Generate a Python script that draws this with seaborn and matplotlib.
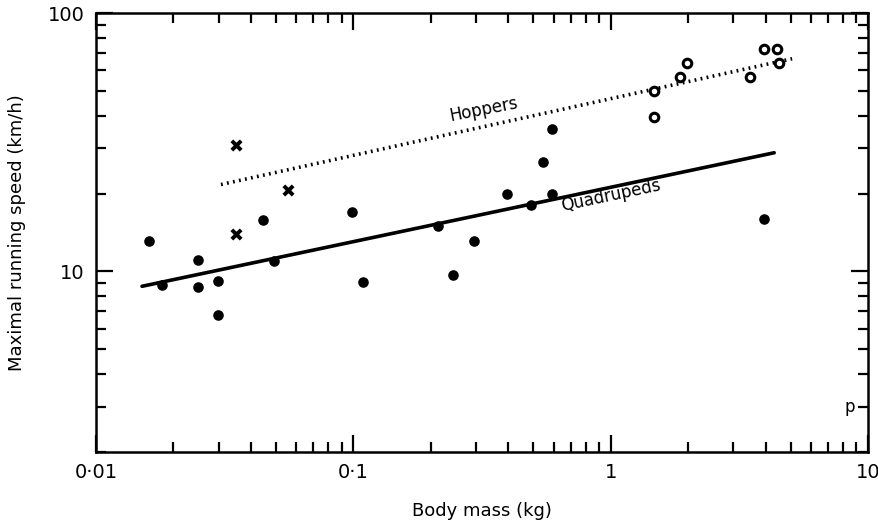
import numpy as np
import pandas as pd
import seaborn as sns
import matplotlib.pyplot as plt
from matplotlib.ticker import FixedLocator, FixedFormatter, NullFormatter

# quadrupeds (filled dots)
quad_mass = [0.0161, 0.0181, 0.0249, 0.0249, 0.0298, 0.0298, 0.0446, 0.0492,
             0.099, 0.109, 0.213, 0.244, 0.294, 0.395, 0.49, 0.546, 0.591, 0.591, 3.95]
quad_speed = [13.1, 8.9, 11.1, 8.7, 9.2, 6.8, 15.8, 11.0,
              17.0, 9.1, 15.0, 9.7, 13.1, 19.9, 18.1, 26.6, 35.6, 19.9, 16.0]

# crosses
cross_mass = [0.035, 0.035, 0.0557]
cross_speed = [30.9, 13.9, 20.6]

# hoppers (open circles)
hop_mass = [1.475, 1.475, 1.86, 1.98, 3.48, 3.95, 4.43, 4.51]
hop_speed = [49.8, 39.6, 56.4, 64.3, 56.4, 72.8, 72.8, 64.3]

# fitted lines (end points)
quad_fit_mass = [0.0151, 4.32]
quad_fit_speed = [8.76, 28.8]
hop_fit_mass = [0.0306, 5.07]
hop_fit_speed = [21.7, 66.6]

x_ticks = [0.01, 0.1, 1, 10]
x_tick_labels = ["0·01", "0·1", "1", "10"]
y_ticks = [10, 100]
y_tick_labels = ["10", "100"]

sns.set_style("ticks")
plt.rcParams["font.family"] = ["DejaVu Sans"]
plt.rcParams["text.color"] = "black"
plt.rcParams["axes.labelcolor"] = "black"
plt.rcParams["xtick.color"] = "black"
plt.rcParams["ytick.color"] = "black"

fig = plt.figure(figsize=(8.79, 5.24), dpi=100)
ax = fig.add_axes([0.1092, 0.1374, 0.8783, 0.8376])

quad = pd.DataFrame({"mass": quad_mass, "speed": quad_speed})
cross = pd.DataFrame({"mass": cross_mass, "speed": cross_speed})
hop = pd.DataFrame({"mass": hop_mass, "speed": hop_speed})

sns.lineplot(x=quad_fit_mass, y=quad_fit_speed, color="black", lw=2.6, ax=ax)
sns.lineplot(x=hop_fit_mass, y=hop_fit_speed, color="black", lw=2.6,
             linestyle=(0, (0.5, 1.2)), ax=ax)

sns.scatterplot(data=quad, x="mass", y="speed", color="black", s=58,
                edgecolor="black", linewidth=0, ax=ax, zorder=3)
sns.scatterplot(data=hop, x="mass", y="speed", facecolor="white", s=38,
                edgecolor="black", linewidth=2.2, ax=ax, zorder=3)
sns.scatterplot(data=cross, x="mass", y="speed", marker="x", color="black",
                s=45, linewidth=2.8, ax=ax, zorder=3)

ax.set_xscale("log")
ax.set_yscale("log")
ax.set_xlim(0.01, 10)
ax.set_ylim(2, 100)

ax.xaxis.set_major_locator(FixedLocator(x_ticks))
ax.xaxis.set_major_formatter(FixedFormatter(x_tick_labels))
ax.xaxis.set_minor_locator(FixedLocator(
    [m * d for d in [0.01, 0.1, 1] for m in range(2, 10)]))
ax.xaxis.set_minor_formatter(NullFormatter())
ax.yaxis.set_major_locator(FixedLocator(y_ticks))
ax.yaxis.set_major_formatter(FixedFormatter(y_tick_labels))
ax.yaxis.set_minor_locator(FixedLocator(
    [m * d for d in [1, 10] for m in range(2, 10) if m * d >= 2]))
ax.yaxis.set_minor_formatter(NullFormatter())

ax.tick_params(which="both", direction="in", top=True, right=True,
               width=1.6, color="black", labelcolor="black", labelsize=14, pad=8)
ax.tick_params(which="major", length=12.5)
ax.tick_params(which="minor", length=7)
for s in ax.spines.values():
    s.set_linewidth(1.8)
    s.set_color("black")

ax.set_xlabel("Body mass (kg)", fontsize=13, labelpad=14, color="black")
ax.set_ylabel("Maximal running speed (km/h)", fontsize=13, labelpad=16,
              color="black")

ax.text(0.32, 42.5, "Hoppers", fontsize=12, rotation=11,
        ha="center", va="center", color="black")
ax.text(1.0, 19.7, "Quadrupeds", fontsize=12, rotation=12,
        ha="center", va="center", color="black")
ax.text(8.9, 3.0, "p", fontsize=12, ha="right", va="center", color="black")

fig.savefig("out.png", dpi=100)
